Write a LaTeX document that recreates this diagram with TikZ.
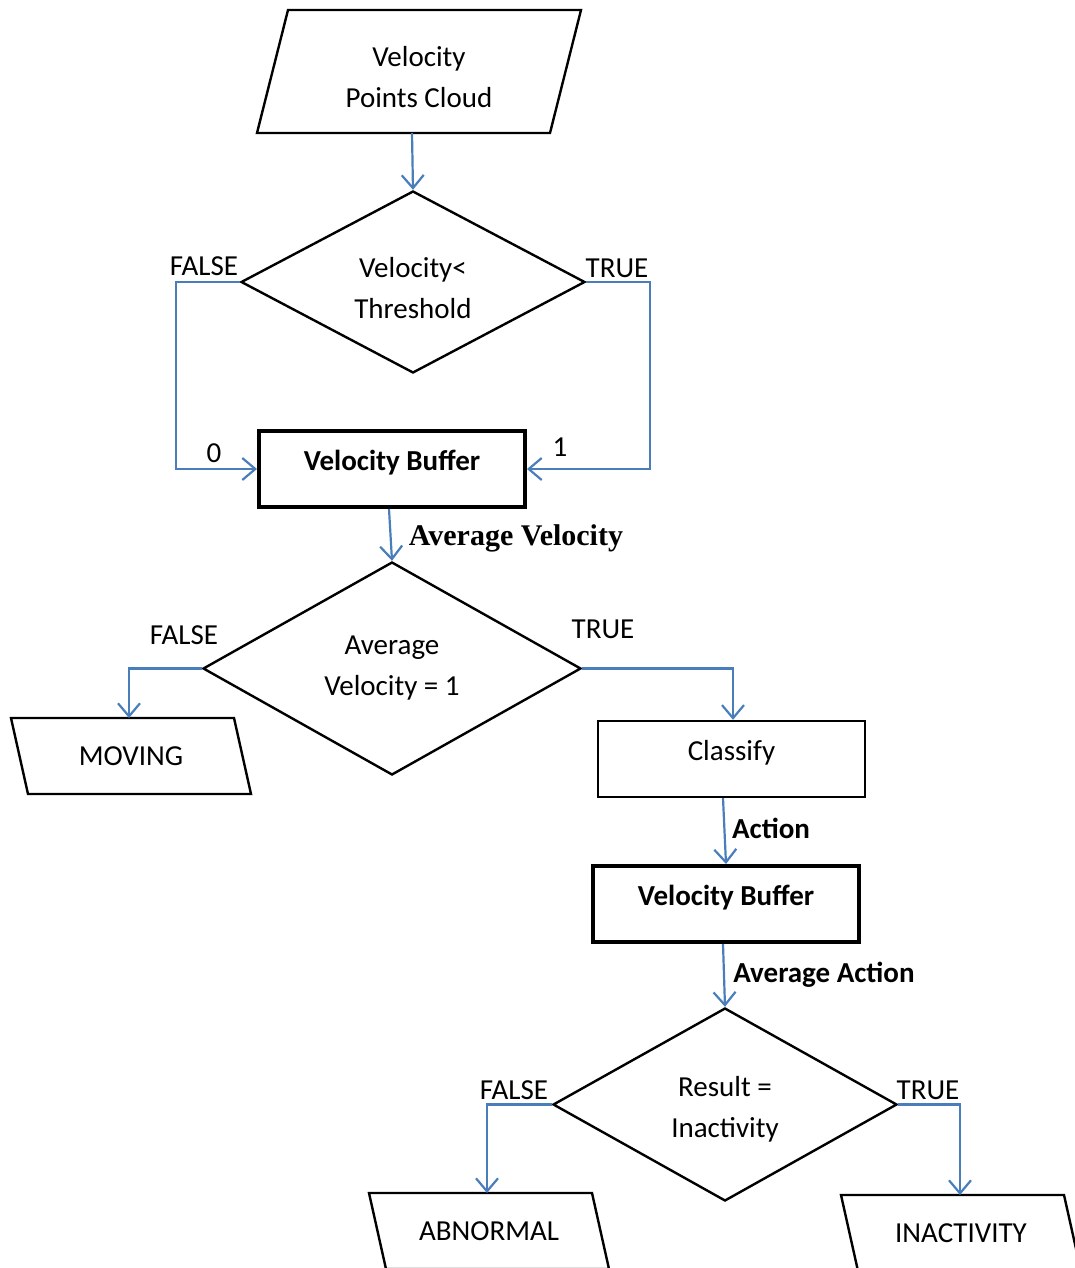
\documentclass[tikz,border=0pt]{standalone}
\usepackage{fontspec}
\setmainfont{Carlito}
\newfontfamily\serifface{Liberation Serif}
\usetikzlibrary{shapes.geometric,arrows.meta}

\definecolor{flowblue}{RGB}{74,126,187}
\newcommand\diagfont{\fontsize{29pt}{41pt}\selectfont}
% invisible strut that lowers a two-line label inside its shape
\newcommand\droptext[1]{\rule{0pt}{#1}}

\tikzset{
  outline/.style={draw=black, line width=2.4pt},
  procbox/.style={outline, rectangle, minimum width=266pt, minimum height=76pt,
    inner sep=0pt, text height=20pt, text depth=17pt},
  bufbox/.style={procbox, line width=4pt, font=\diagfont\bfseries},
  decision/.style={outline, diamond, aspect=2, inner sep=0pt, align=center},
  iobox/.style={rectangle, inner sep=0pt, outer sep=0pt, align=center,
    minimum width=240pt, minimum height=76pt},
  flow/.style={draw=flowblue, line width=2.2pt,
    -{Straight Barb[length=13pt,width=22pt]}},
  tag/.style={anchor=base, inner sep=0pt},
  boldtag/.style={tag, font=\diagfont\bfseries},
}

\begin{document}
\begin{tikzpicture}[x=1pt, y=-1pt, font=\diagfont]
\useasboundingbox (0,0) rectangle (1075,1268);
\clip (0,0) rectangle (1075,1268);

% input: velocity point cloud
\node[iobox, minimum width=324pt, minimum height=123pt] (cloud) at (419,71.5)
  {\droptext{31pt}Velocity\\Points Cloud};
\draw[outline] ([xshift=31pt]cloud.north west) -- (cloud.north east)
  -- ([xshift=-31pt]cloud.south east) -- (cloud.south west) -- cycle;

% first decision and the velocity buffer
\node[decision, minimum width=344pt, minimum height=182pt] (thr) at (413,282)
  {\droptext{32pt}Velocity<\\Threshold};
\node[bufbox] (vbuf) at (392,469) {Velocity Buffer};

% second decision
\node[decision, minimum width=378pt, minimum height=213pt] (avg) at (392,668.5)
  {Average\\Velocity = 1};

% moving output
\node[iobox] (moving) at (131,756) {MOVING};
\draw[outline] (moving.north west) -- ([xshift=-17pt]moving.north east)
  -- (moving.south east) -- ([xshift=17pt]moving.south west) -- cycle;

% classification and action buffer
\node[procbox, minimum width=267pt] (cls) at (731.5,759) {Classify};
\node[bufbox] (abuf) at (726,904) {Velocity Buffer};

% third decision
\node[decision, minimum width=344pt, minimum height=193pt] (res) at (725,1104.5)
  {\droptext{30pt}Result =\\Inactivity};

% final outputs
\node[iobox] (abn) at (489,1231) {ABNORMAL};
\draw[outline] (abn.north west) -- ([xshift=-17pt]abn.north east)
  -- (abn.south east) -- ([xshift=17pt]abn.south west) -- cycle;
\node[iobox] (inact) at (961,1233) {INACTIVITY};
\draw[outline] (inact.north west) -- ([xshift=-17pt]inact.north east)
  -- (inact.south east) -- ([xshift=17pt]inact.south west) -- cycle;

% connectors
\draw[flow] ([xshift=-7pt]cloud.south) -- (thr.north);
\draw[flow] (thr.west) -- ++(-64,0) |- (vbuf.west);
\draw[flow] (thr.east) -- ++(64,0) |- (vbuf.east);
\draw[flow] ([xshift=-3pt]vbuf.south) -- (avg.north);
\draw[flow] (avg.west) -| ([xshift=-2pt]moving.north);
\draw[flow] (avg.east) -| ([xshift=1.5pt]cls.north);
\draw[flow] ([xshift=-8.5pt]cls.south) -- (abuf.north);
\draw[flow] ([xshift=-3pt]abuf.south) -- (res.north);
\draw[flow] (res.west) -| ([xshift=-2pt]abn.north);
\draw[flow] (res.east) -| ([xshift=-1pt]inact.north);

% branch and connector labels
\node[tag] (f1) at (204,275) {FALSE};
\node[tag] (t1) at (617,277) {TRUE};
\node[tag] (zero) at (214,462) {0};
\node[tag] (one) at (560,456) {1};
\node[tag, font=\fontsize{30pt}{36pt}\selectfont\serifface\bfseries] (avgvel)
  at (516,545) {Average Velocity};
\node[tag] (f2) at (184,644.5) {FALSE};
\node[tag] (t2) at (603,638.5) {TRUE};
\node[boldtag] (act) at (771,838.5) {Action};
\node[boldtag] (avgact) at (824,982) {Average Action};
\node[tag] (f3) at (514,1099.5) {FALSE};
\node[tag] (t3) at (928,1099.5) {TRUE};
\end{tikzpicture}
\end{document}
